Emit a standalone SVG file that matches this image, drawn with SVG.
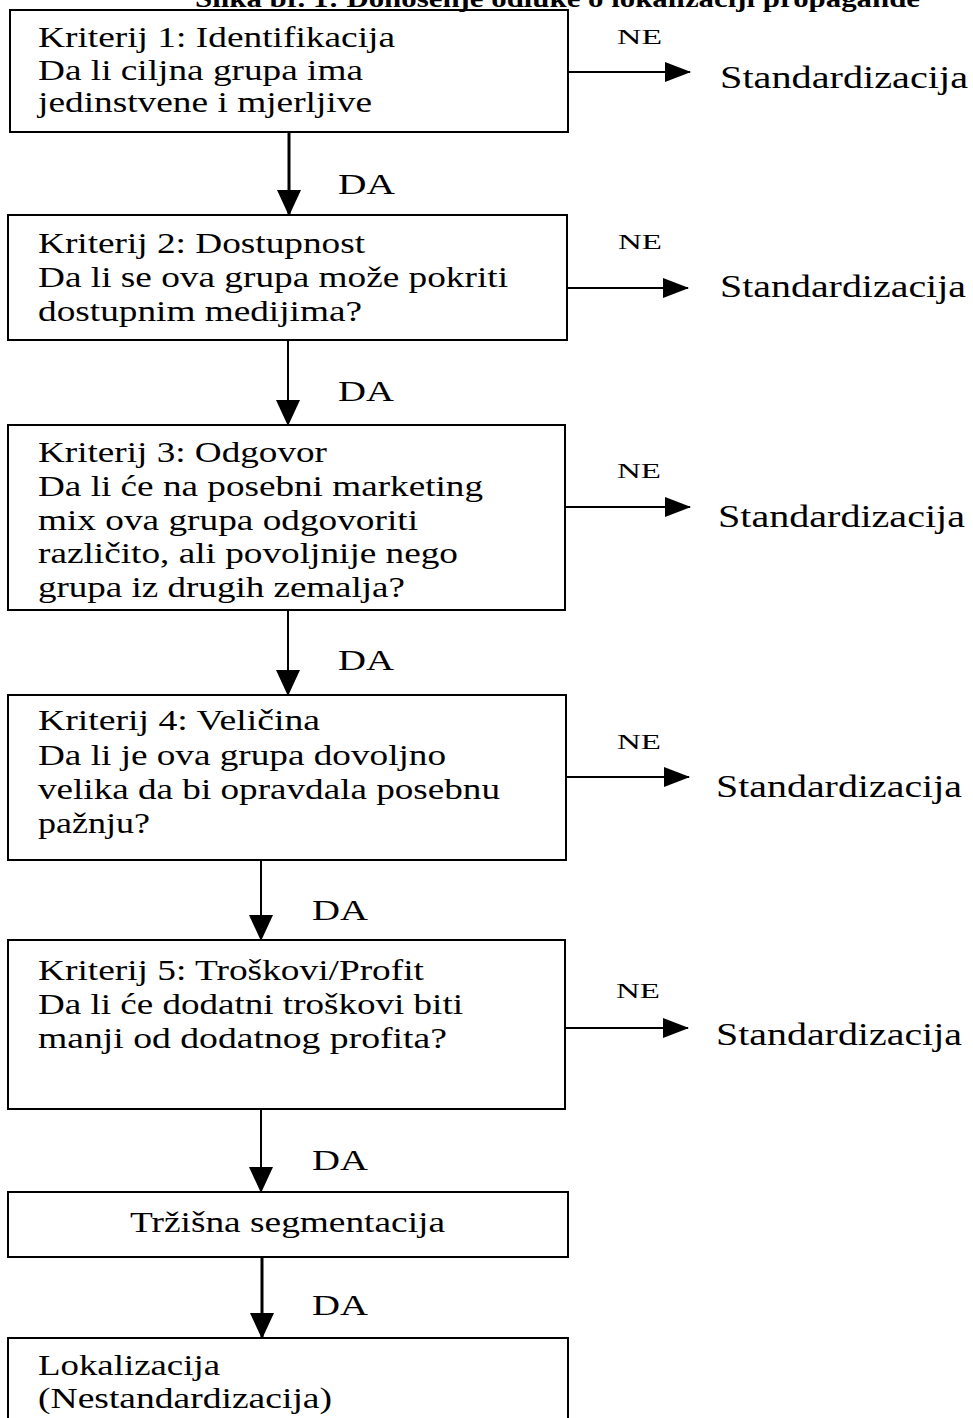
<svg xmlns="http://www.w3.org/2000/svg" width="973" height="1418" viewBox="0 0 973 1418">
<style>
.box{fill:#fff;stroke:#000;stroke-width:2}
.t{font-family:"Liberation Serif","Times New Roman",serif;font-size:30px;fill:#000}
.ne{font-family:"Liberation Serif","Times New Roman",serif;font-size:22px;fill:#000}
.std{font-family:"Liberation Serif","Times New Roman",serif;font-size:31px;fill:#000}
.da{font-family:"Liberation Serif","Times New Roman",serif;font-size:29px;fill:#000}
.title{font-family:"Liberation Serif","Times New Roman",serif;font-size:26px;font-weight:bold;fill:#000}
.c{stroke:#000;stroke-width:2;fill:none}
.cv{stroke:#000;stroke-width:3;fill:none}
</style>
<defs>
<marker id="ahd" markerUnits="userSpaceOnUse" markerWidth="24" markerHeight="26" refX="12" refY="25" orient="0" viewBox="0 0 24 26">
<polygon points="0,0 24,0 12,26" fill="#000"/>
</marker>
<marker id="ahr" markerUnits="userSpaceOnUse" markerWidth="26" markerHeight="20" refX="25" refY="10" orient="0" viewBox="0 0 26 20">
<polygon points="0,0 26,10 0,20" fill="#000"/>
</marker>
</defs>

<g id="k1">
<rect class="box" x="10" y="10" width="558" height="122"/>
<text class="t" x="38" y="47" textLength="357" lengthAdjust="spacingAndGlyphs">Kriterij 1: Identifikacija</text>
<text class="t" x="38" y="80" textLength="325" lengthAdjust="spacingAndGlyphs">Da li ciljna grupa ima</text>
<text class="t" x="38" y="112" textLength="334" lengthAdjust="spacingAndGlyphs">jedinstvene i mjerljive</text>
</g>
<text class="title" x="195" y="7" textLength="725" lengthAdjust="spacingAndGlyphs">Slika br. 1: Donošenje odluke o lokalizaciji propagande</text>

<g id="connectors">
<line class="cv" x1="289" y1="132" x2="289" y2="215" marker-end="url(#ahd)"/>
<line class="c" x1="288" y1="340" x2="288" y2="425" marker-end="url(#ahd)"/>
<line class="c" x1="288" y1="610" x2="288" y2="695" marker-end="url(#ahd)"/>
<line class="c" x1="261" y1="860" x2="261" y2="940" marker-end="url(#ahd)"/>
<line class="c" x1="261" y1="1109" x2="261" y2="1192" marker-end="url(#ahd)"/>
<line class="cv" x1="262" y1="1257" x2="262" y2="1338" marker-end="url(#ahd)"/>
<line class="c" x1="568" y1="72" x2="690" y2="72" marker-end="url(#ahr)"/>
<line class="c" x1="567" y1="288" x2="688" y2="288" marker-end="url(#ahr)"/>
<line class="c" x1="565" y1="507" x2="690" y2="507" marker-end="url(#ahr)"/>
<line class="c" x1="566" y1="777" x2="689" y2="777" marker-end="url(#ahr)"/>
<line class="c" x1="565" y1="1028" x2="688" y2="1028" marker-end="url(#ahr)"/>
<text class="da" x="338" y="194" textLength="57" lengthAdjust="spacingAndGlyphs">DA</text>
<text class="da" x="338" y="401" textLength="56" lengthAdjust="spacingAndGlyphs">DA</text>
<text class="da" x="338" y="670" textLength="56" lengthAdjust="spacingAndGlyphs">DA</text>
<text class="da" x="312" y="920" textLength="56" lengthAdjust="spacingAndGlyphs">DA</text>
<text class="da" x="312" y="1170" textLength="56" lengthAdjust="spacingAndGlyphs">DA</text>
<text class="da" x="312" y="1315" textLength="56" lengthAdjust="spacingAndGlyphs">DA</text>
<text class="ne" x="617" y="44" textLength="45" lengthAdjust="spacingAndGlyphs">NE</text>
<text class="ne" x="618" y="249" textLength="44" lengthAdjust="spacingAndGlyphs">NE</text>
<text class="ne" x="617" y="478" textLength="44" lengthAdjust="spacingAndGlyphs">NE</text>
<text class="ne" x="617" y="749" textLength="44" lengthAdjust="spacingAndGlyphs">NE</text>
<text class="ne" x="616" y="998" textLength="44" lengthAdjust="spacingAndGlyphs">NE</text>
</g>

<g id="std1"><text class="std" x="720" y="88" textLength="248" lengthAdjust="spacingAndGlyphs">Standardizacija</text></g>
<g id="std2"><text class="std" x="720" y="297" textLength="246" lengthAdjust="spacingAndGlyphs">Standardizacija</text></g>
<g id="std3"><text class="std" x="718" y="527" textLength="247" lengthAdjust="spacingAndGlyphs">Standardizacija</text></g>
<g id="std4"><text class="std" x="716" y="797" textLength="246" lengthAdjust="spacingAndGlyphs">Standardizacija</text></g>
<g id="std5"><text class="std" x="716" y="1045" textLength="246" lengthAdjust="spacingAndGlyphs">Standardizacija</text></g>

<g id="k2">
<rect class="box" x="8" y="215" width="559" height="125"/>
<text class="t" x="38" y="253" textLength="327" lengthAdjust="spacingAndGlyphs">Kriterij 2: Dostupnost</text>
<text class="t" x="38" y="287" textLength="470" lengthAdjust="spacingAndGlyphs">Da li se ova grupa može pokriti</text>
<text class="t" x="38" y="321" textLength="324" lengthAdjust="spacingAndGlyphs">dostupnim medijima?</text>
</g>
<g id="k3">
<rect class="box" x="8" y="425" width="557" height="185"/>
<text class="t" x="38" y="462" textLength="289" lengthAdjust="spacingAndGlyphs">Kriterij 3: Odgovor</text>
<text class="t" x="38" y="496" textLength="445" lengthAdjust="spacingAndGlyphs">Da li će na posebni marketing</text>
<text class="t" x="38" y="530" textLength="380" lengthAdjust="spacingAndGlyphs">mix ova grupa odgovoriti</text>
<text class="t" x="38" y="563" textLength="420" lengthAdjust="spacingAndGlyphs">različito, ali povoljnije nego</text>
<text class="t" x="38" y="597" textLength="367" lengthAdjust="spacingAndGlyphs">grupa iz drugih zemalja?</text>
</g>
<g id="k4">
<rect class="box" x="8" y="695" width="558" height="165"/>
<text class="t" x="38" y="730" textLength="282" lengthAdjust="spacingAndGlyphs">Kriterij 4: Veličina</text>
<text class="t" x="38" y="765" textLength="408" lengthAdjust="spacingAndGlyphs">Da li je ova grupa dovoljno</text>
<text class="t" x="38" y="799" textLength="462" lengthAdjust="spacingAndGlyphs">velika da bi opravdala posebnu</text>
<text class="t" x="38" y="833" textLength="112" lengthAdjust="spacingAndGlyphs">pažnju?</text>
</g>
<g id="k5">
<rect class="box" x="8" y="940" width="557" height="169"/>
<text class="t" x="38" y="980" textLength="386" lengthAdjust="spacingAndGlyphs">Kriterij 5: Troškovi/Profit</text>
<text class="t" x="38" y="1014" textLength="425" lengthAdjust="spacingAndGlyphs">Da li će dodatni troškovi biti</text>
<text class="t" x="38" y="1048" textLength="409" lengthAdjust="spacingAndGlyphs">manji od dodatnog profita?</text>
</g>
<g id="seg">
<rect class="box" x="8" y="1192" width="560" height="65"/>
<text class="t" x="130" y="1232" textLength="315" lengthAdjust="spacingAndGlyphs">Tržišna segmentacija</text>
</g>
<g id="lok">
<rect class="box" x="8" y="1338" width="560" height="100"/>
<text class="t" x="38" y="1375" textLength="182" lengthAdjust="spacingAndGlyphs">Lokalizacija</text>
<text class="t" x="38" y="1408" textLength="294" lengthAdjust="spacingAndGlyphs">(Nestandardizacija)</text>
</g>
</svg>
